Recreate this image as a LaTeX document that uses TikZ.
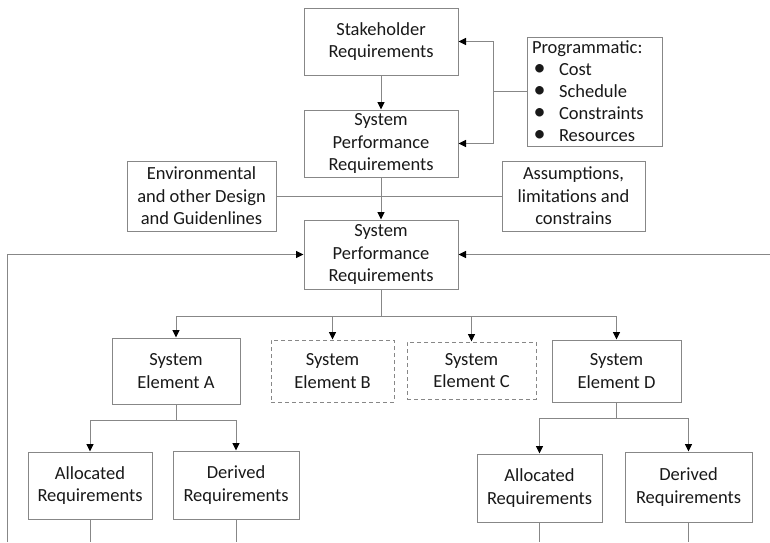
\documentclass[tikz,border=0pt]{standalone}
\usepackage{fontspec}
\setmainfont{Carlito}
\usetikzlibrary{arrows.meta}

\definecolor{linegray}{RGB}{135,135,135}
\definecolor{inkgray}{RGB}{25,25,25}

% bullet marker of the programmatic list, kept out of the line height
\newcommand{\progitem}{\makebox[27pt][l]{\hspace{1.5pt}\smash{\raisebox{0.5pt}{\scalebox{1.3}{•}}}}}

\tikzset{
  reqbox/.style={draw=linegray, line width=1pt, fill=white, align=center,
    inner sep=2pt, text=inkgray,
    font=\fontsize{18.5}{22.5}\selectfont},
  optbox/.style={reqbox, dashed, dash pattern=on 4pt off 3pt},
  link/.style={draw=linegray, line width=1pt},
  arr/.style={link, -{Triangle[length=7.5pt,width=7pt,color=black]}},
}

\begin{document}
\begin{tikzpicture}[x=1pt, y=-1pt]
  \useasboundingbox (0,0) rectangle (770,542);

  % top chain
  \node[reqbox, minimum width=154pt, minimum height=67pt] (stake) at (381,41.5)
    {Stakeholder\\Requirements};
  \node[reqbox, minimum width=154pt, minimum height=67pt] (perf1) at (381,143.5)
    {System\\Performance\\Requirements};
  \node[reqbox, text width=125pt, inner xsep=5pt, inner ysep=0pt, align=left,
        minimum height=109pt, font=\fontsize{18.5}{22}\selectfont] (prog) at (594.5,91.5)
    {Programmatic:\\
     \progitem Cost\\
     \progitem Schedule\\
     \progitem Constraints\\
     \progitem Resources};

  % side inputs
  \node[reqbox, minimum width=149pt, minimum height=70pt] (env) at (201.5,196)
    {Environmental\\and other Design\\and Guidenlines};
  \node[reqbox, minimum width=143pt, minimum height=70pt] (assum) at (573.5,196)
    {Assumptions,\\limitations and\\constrains};

  \node[reqbox, minimum width=154pt, minimum height=69pt] (perf2) at (381,254.5)
    {System\\Performance\\Requirements};

  % system elements
  \node[reqbox, minimum width=128pt, minimum height=66pt] (elA) at (176,371)
    {System\\Element A};
  \node[optbox, minimum width=123pt, minimum height=62pt] (elB) at (332.5,371)
    {System\\Element B};
  \node[optbox, minimum width=129pt, minimum height=57pt] (elC) at (471.5,370.5)
    {System\\Element C};
  \node[reqbox, minimum width=129pt, minimum height=62pt] (elD) at (616.5,371)
    {System\\Element D};

  % requirements under A and D
  \node[reqbox, minimum width=124pt, minimum height=67pt] (allocA) at (90,485.5)
    {Allocated\\Requirements};
  \node[reqbox, minimum width=126pt, minimum height=68pt] (derA) at (236,485)
    {Derived\\Requirements};
  \node[reqbox, minimum width=125pt, minimum height=68pt] (allocD) at (539.5,488)
    {Allocated\\Requirements};
  \node[reqbox, minimum width=127pt, minimum height=70pt] (derD) at (688.5,487)
    {Derived\\Requirements};

  % connector junctions and free ends
  \coordinate (pj) at (493,91.5);
  \coordinate (bus) at (381,316);
  \coordinate (busA) at (176,420);
  \coordinate (busD) at (616.5,418);
  \coordinate (loopL) at (7,542);
  \coordinate (loopR) at (770,254.5);
  \coordinate (endAA) at (90,542);
  \coordinate (endDA) at (236,542);
  \coordinate (endAD) at (539.5,542);
  \coordinate (endDD) at (688.5,542);

  \draw[arr] (stake) -- (perf1);
  \draw[link] (prog.west) -- (pj);
  \draw[arr] (pj) |- (stake.east);
  \draw[arr] (pj) |- (perf1.east);

  \draw[link] (env.east) -- (assum.west);
  \draw[arr] (perf1) -- (perf2);

  \draw[arr] (loopL) |- (perf2.west);
  \draw[arr] (loopR) -- (perf2.east);

  \draw[link] (perf2.south) -- (bus);
  \draw[arr] (bus) -| (elA.north);
  \draw[arr] (bus) -| (elB.north);
  \draw[arr] (bus) -| (elC.north);
  \draw[arr] (bus) -| (elD.north);

  \draw[link] (elA.south) -- (busA);
  \draw[arr] (busA) -| (allocA.north);
  \draw[arr] (busA) -| (derA.north);
  \draw[link] (elD.south) -- (busD);
  \draw[arr] (busD) -| (allocD.north);
  \draw[arr] (busD) -| (derD.north);

  \draw[link] (allocA.south) -- (endAA);
  \draw[link] (derA.south) -- (endDA);
  \draw[link] (allocD.south) -- (endAD);
  \draw[link] (derD.south) -- (endDD);
\end{tikzpicture}
\end{document}
